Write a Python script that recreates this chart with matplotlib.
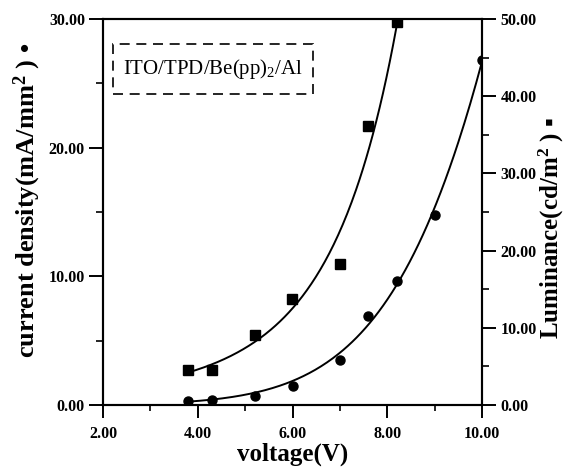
import numpy as np
import matplotlib
matplotlib.use("Agg")
import matplotlib.pyplot as plt
from matplotlib.patches import Rectangle

plt.rcParams["mathtext.fontset"] = "custom"
plt.rcParams["mathtext.rm"] = "Liberation Serif"
plt.rcParams["mathtext.bf"] = "Liberation Serif:bold"
plt.rcParams["mathtext.it"] = "Liberation Serif:italic"

# Data
v_current = [3.8, 4.3, 5.2, 6.0, 7.0, 7.6, 8.2, 9.0, 10.0]
current = [0.3, 0.35, 0.7, 1.5, 3.5, 6.9, 9.6, 14.8, 26.8]
v_lum = [3.8, 4.3, 5.2, 6.0, 7.0, 7.6, 8.2]
luminance = [4.5, 4.5, 9.1, 13.7, 18.3, 36.1, 49.6]

x_ticks = [2, 4, 6, 8, 10]
y1_ticks = [0, 10, 20, 30]
y2_ticks = [0, 10, 20, 30, 40, 50]

tickfont = dict(family="Liberation Serif", weight="bold", size=11.5)
labfont = "Liberation Serif"

W, H = 565, 467
fig = plt.figure(figsize=(W / 100, H / 100), dpi=100)
ax = fig.add_axes([103 / W, 1 - 405 / H, (482 - 103) / W, (405 - 19) / H])
ax2 = ax.twinx()

# fitted curves (quadratic in log space, weighted toward linear-space error)
c1 = np.polyfit(v_current, np.log(current), 2, w=np.array(current))
xs1 = np.linspace(min(v_current), max(v_current), 200)
ax.plot(xs1, np.exp(np.polyval(c1, xs1)), color="black", lw=1.4)
ax.plot(v_current, current, "o", color="black", ms=6.5)

c2 = np.polyfit(v_lum, np.log(luminance), 2)
xs2 = np.linspace(min(v_lum), max(v_lum) + 0.3, 200)
ax2.plot(xs2, np.exp(np.polyval(c2, xs2)), color="black", lw=1.4)
ax2.plot(v_lum, luminance, "s", color="black", ms=6.5)

ax.set_xlim(2, 10)
ax.set_ylim(0, 30)
ax2.set_ylim(0, 50)

ax.set_xticks(x_ticks)
ax.set_xticklabels([f"{t:.2f}" for t in x_ticks], fontdict=tickfont)
ax.set_xticks([3, 5, 7, 9], minor=True)
ax.set_yticks(y1_ticks)
ax.set_yticklabels([f"{t:.2f}" for t in y1_ticks], fontdict=tickfont)
ax.set_yticks([5, 15, 25], minor=True)
ax2.set_yticks(y2_ticks)
ax2.set_yticklabels([f"{t:.2f}" for t in y2_ticks], fontdict=tickfont)
ax2.set_yticks([5, 15, 25, 35, 45], minor=True)

ax.tick_params(axis="x", which="major", direction="out", length=9, width=1.4, pad=6)
ax.tick_params(axis="x", which="minor", direction="out", length=4.5, width=1.2)
ax.tick_params(axis="y", which="major", direction="out", length=10, width=1.4, pad=3)
ax.tick_params(axis="y", which="minor", direction="out", length=5, width=1.2)
ax2.tick_params(axis="y", which="major", direction="out", length=10, width=1.4, pad=3.5)
ax2.tick_params(axis="y", which="minor", direction="out", length=5, width=1.2)

for a in (ax, ax2):
    for s in a.spines.values():
        s.set_linewidth(1.5)

fig.text(293 / W, 1 - 454 / H, "voltage(V)", family=labfont, weight="bold",
         fontsize=18, ha="center", va="center")
fig.text(27 / W, 1 - 200 / H, "current density(mA/mm$^\\mathbf{2}$ ) •", family=labfont,
         weight="bold", fontsize=19, rotation=90, ha="center", va="center")
fig.text(551 / W, 1 - 228 / H, "Luminance(cd/m$^\\mathbf{2}$ ) ▪", family=[labfont, "DejaVu Sans"],
         weight="bold", fontsize=18, rotation=90, ha="center", va="center")

# dashed legend-style box
ax.add_patch(Rectangle((0.026, 0.806), 0.528, 0.129, transform=ax.transAxes,
                       fill=False, ec="black", lw=1.2, ls=(0, (6, 4)), zorder=3))
ax.text(0.29, 0.870, "ITO/TPD/Be(pp)$_2$/Al", transform=ax.transAxes,
        family="Liberation Serif", fontsize=15, ha="center", va="center")

fig.savefig("out.png", dpi=100)
